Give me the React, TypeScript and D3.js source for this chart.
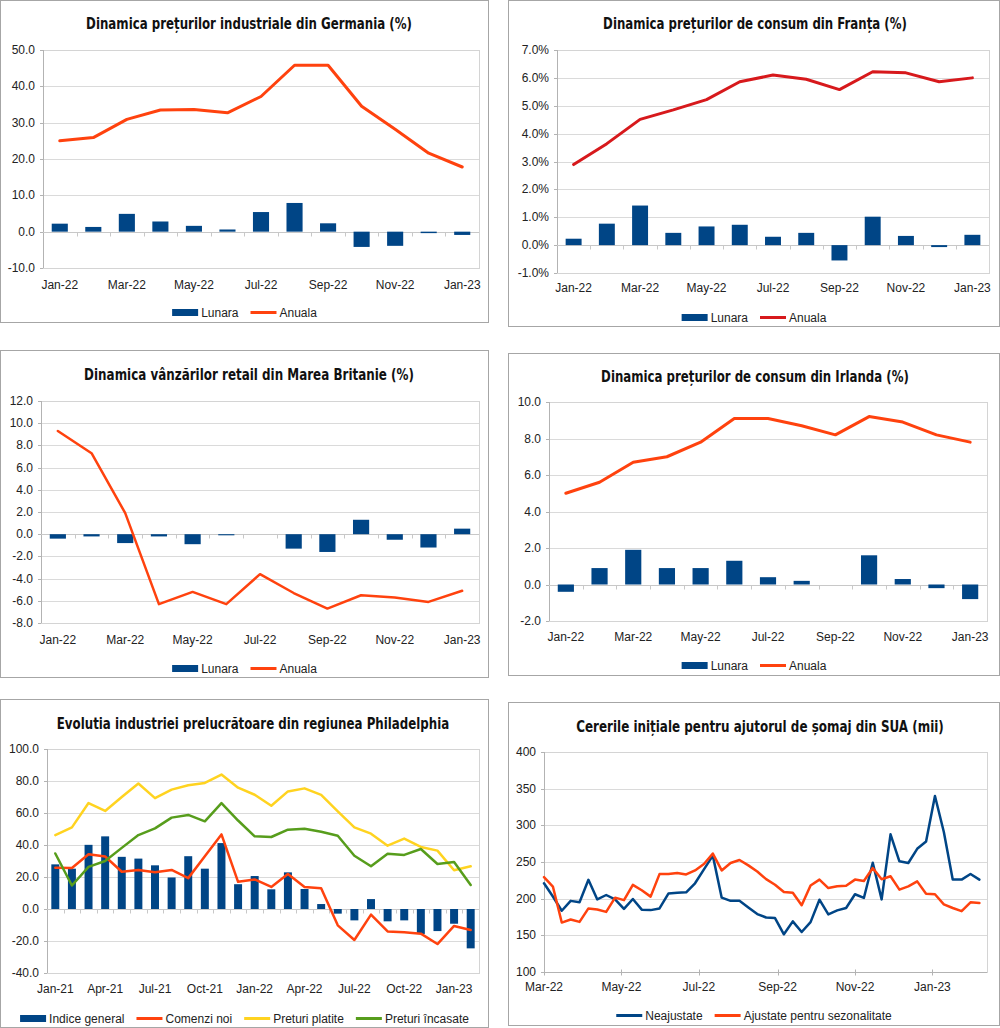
import * as d3 from "d3";
import React from "react";

const BLUE = "#004586";
const ORANGE = "#ff420e";
const RED = "#d7191c";
const YELLOW = "#ffd320";
const GREEN = "#579d1c";
const FONT = "'Liberation Sans', Arial, sans-serif";
const TITLE_FONT = "'Liberation Sans Narrow', 'Arial Narrow', 'DejaVu Sans Condensed', sans-serif";

// monthly categories
const months22 = ["Jan-22", "Feb-22", "Mar-22", "Apr-22", "May-22", "Jun-22", "Jul-22", "Aug-22", "Sep-22", "Oct-22", "Nov-22", "Dec-22", "Jan-23"];
const months21 = [
  "Jan-21", "Feb-21", "Mar-21", "Apr-21", "May-21", "Jun-21", "Jul-21", "Aug-21", "Sep-21", "Oct-21", "Nov-21", "Dec-21",
  "Jan-22", "Feb-22", "Mar-22", "Apr-22", "May-22", "Jun-22", "Jul-22", "Aug-22", "Sep-22", "Oct-22", "Nov-22", "Dec-22",
  "Jan-23", "Feb-23",
];

// Germania - preturi industriale
const deLunara = [2.2, 1.3, 4.9, 2.8, 1.6, 0.6, 5.4, 7.9, 2.3, -4.2, -3.9, -0.4, -0.9];
const deAnuala = [25.0, 25.9, 30.9, 33.5, 33.6, 32.7, 37.2, 45.8, 45.8, 34.5, 28.2, 21.6, 17.8];

// Franta - preturi de consum
const frLunara = [0.23, 0.77, 1.42, 0.44, 0.67, 0.73, 0.3, 0.44, -0.55, 1.02, 0.33, -0.07, 0.37];
const frAnuala = [2.89, 3.64, 4.51, 4.85, 5.22, 5.86, 6.1, 5.95, 5.58, 6.22, 6.18, 5.86, 6.0];

// Marea Britanie - vanzari retail
const ukLunara = [-0.4, -0.2, -0.8, -0.2, -0.9, -0.1, 0, -1.3, -1.6, 1.3, -0.5, -1.2, 0.5];
const ukAnuala = [9.3, 7.3, 1.9, -6.3, -5.2, -6.3, -3.6, -5.3, -6.7, -5.5, -5.7, -6.1, -5.1];

// Irlanda - preturi de consum
const ieLunara = [-0.4, 0.9, 1.9, 0.9, 0.9, 1.3, 0.4, 0.2, 0, 1.6, 0.3, -0.2, -0.8];
const ieAnuala = [5.0, 5.6, 6.7, 7.0, 7.8, 9.1, 9.1, 8.7, 8.2, 9.2, 8.9, 8.2, 7.8];

// Philadelphia
const phIndice = [27.9, 25.2, 40.1, 45.4, 32.6, 31.5, 27.3, 19.7, 33.0, 25.2, 41.2, 15.5, 20.6, 12.3, 22.9, 12.5, 3.1, -2.9, -7.1, 6.2, -7.7, -7.1, -15.6, -13.8, -9.2, -24.6];
const phComenzi = [25.8, 25.6, 34.2, 32.8, 23.3, 24.4, 22.9, 24.4, 19.3, 33.0, 46.6, 17.0, 18.5, 13.8, 21.9, 13.8, 12.9, -10.2, -19.4, -3.5, -14.0, -14.6, -15.4, -21.9, -10.6, -13.1];
const phPlatite = [46.2, 51.0, 66.2, 61.3, 70.0, 78.4, 69.3, 74.6, 77.3, 78.8, 84.0, 75.8, 71.4, 64.5, 73.5, 75.4, 71.3, 61.0, 51.0, 47.1, 39.6, 44.0, 38.8, 36.5, 24.2, 26.7];
const phIncasate = [34.7, 14.7, 26.3, 30.0, 38.2, 46.2, 50.4, 57.1, 58.8, 54.8, 66.2, 55.3, 45.4, 45.0, 49.6, 50.2, 48.3, 45.8, 33.3, 26.7, 34.6, 33.8, 37.5, 28.1, 29.4, 15.0];

// SUA - cereri initiale saptamanale (mii)
const usFirstWeek = new Date(2022, 2, 1);
const usAxisEnd = new Date(2023, 1, 13);
const usNeajustate = [
  221, 203, 183.5, 197, 195, 225.7, 199, 205, 199, 186, 199.5, 185, 184.4, 186.7, 207, 208, 208.7, 221, 240, 258.7,
  201.4, 197, 197, 188, 179, 174.3, 173.6, 151.4, 169, 154.5, 168, 198.6, 178.6, 184, 187.3, 206, 201, 249, 199, 287.7,
  251, 248.6, 268, 278, 340, 291, 226, 226, 233.6, 226,
];
const usAjustate = [
  229.4, 216.5, 167.4, 171.6, 168.3, 186.7, 185.3, 182, 201.4, 198, 218.8, 211.5, 202.8, 233.5, 233.5, 235, 233, 238.5, 247.2, 261.5,
  238.5, 248.6, 252.8, 245.4, 237, 226.6, 219, 209, 208, 191, 218, 226, 214.5, 217, 217.7, 226, 224, 241.8, 226.4, 230.5,
  212.3, 216.8, 223.6, 206.8, 206, 192.3, 187.3, 183, 195, 194,
];

type Series = { name: string; values: number[]; color: string; kind: "bar" | "line"; width?: number };
type Panel = {
  box: [number, number, number, number];
  plot: [number, number, number, number];
  title: string;
  titleX: number;
  titleY: number;
  titleW: number;
  categories?: string[];
  dates?: Date[];
  dateEnd?: Date;
  labelEvery?: number;
  yDomain: [number, number];
  yStep: number;
  yFormat: (v: number) => string;
  series: Series[];
  xLabelY: number;
  legendY: number;
};

const fmt1 = (v: number) => v.toFixed(1);

const usDates = usNeajustate.map((_, i) => d3.timeDay.offset(usFirstWeek, i * 7));

const panels: Panel[] = [
  {
    box: [0, 0, 489, 323],
    plot: [43, 50, 479, 268],
    title: "Dinamica prețurilor industriale din Germania (%)",
    titleX: 249,
    titleY: 29,
    titleW: 326,
    categories: months22,
    labelEvery: 2,
    yDomain: [-10, 50],
    yStep: 10,
    yFormat: fmt1,
    series: [
      { name: "Lunara", values: deLunara, color: BLUE, kind: "bar" },
      { name: "Anuala", values: deAnuala, color: ORANGE, kind: "line", width: 3 },
    ],
    xLabelY: 289,
    legendY: 312,
  },
  {
    box: [508, 0, 1000, 327],
    plot: [557, 50, 989, 273],
    title: "Dinamica prețurilor de consum din Franța (%)",
    titleX: 755,
    titleY: 29,
    titleW: 304,
    categories: months22,
    labelEvery: 2,
    yDomain: [-1, 7],
    yStep: 1,
    yFormat: (v) => `${v.toFixed(1)}%`,
    series: [
      { name: "Lunara", values: frLunara, color: BLUE, kind: "bar" },
      { name: "Anuala", values: frAnuala, color: RED, kind: "line", width: 3 },
    ],
    xLabelY: 292,
    legendY: 317,
  },
  {
    box: [0, 350, 489, 678],
    plot: [41, 401, 479, 623],
    title: "Dinamica vânzărilor retail din Marea Britanie (%)",
    titleX: 249,
    titleY: 380,
    titleW: 330,
    categories: months22,
    labelEvery: 2,
    yDomain: [-8, 12],
    yStep: 2,
    yFormat: fmt1,
    series: [
      { name: "Lunara", values: ukLunara, color: BLUE, kind: "bar" },
      { name: "Anuala", values: ukAnuala, color: ORANGE, kind: "line", width: 2.5 },
    ],
    xLabelY: 644,
    legendY: 668,
  },
  {
    box: [508, 353, 1000, 676],
    plot: [549, 402, 987, 621],
    title: "Dinamica prețurilor de consum din Irlanda (%)",
    titleX: 755,
    titleY: 382,
    titleW: 308,
    categories: months22,
    labelEvery: 2,
    yDomain: [-2, 10],
    yStep: 2,
    yFormat: fmt1,
    series: [
      { name: "Lunara", values: ieLunara, color: BLUE, kind: "bar" },
      { name: "Anuala", values: ieAnuala, color: ORANGE, kind: "line", width: 3 },
    ],
    xLabelY: 641,
    legendY: 665,
  },
  {
    box: [0, 699, 489, 1028],
    plot: [47, 749, 479, 973],
    title: "Evolutia industriei prelucrătoare din regiunea Philadelphia",
    titleX: 253,
    titleY: 729,
    titleW: 393,
    categories: months21,
    labelEvery: 3,
    yDomain: [-40, 100],
    yStep: 20,
    yFormat: fmt1,
    series: [
      { name: "Indice general", values: phIndice, color: BLUE, kind: "bar" },
      { name: "Comenzi noi", values: phComenzi, color: ORANGE, kind: "line", width: 2.5 },
      { name: "Preturi platite", values: phPlatite, color: YELLOW, kind: "line", width: 2.5 },
      { name: "Preturi încasate", values: phIncasate, color: GREEN, kind: "line", width: 2.5 },
    ],
    xLabelY: 993,
    legendY: 1018,
  },
  {
    box: [508, 702, 1000, 1026],
    plot: [544, 752, 987, 972],
    title: "Cererile inițiale pentru ajutorul de șomaj din SUA (mii)",
    titleX: 760,
    titleY: 732,
    titleW: 368,
    dates: usDates,
    dateEnd: usAxisEnd,
    yDomain: [100, 400],
    yStep: 50,
    yFormat: (v) => `${v}`,
    series: [
      { name: "Neajustate", values: usNeajustate, color: BLUE, kind: "line", width: 2.5 },
      { name: "Ajustate pentru sezonalitate", values: usAjustate, color: ORANGE, kind: "line", width: 2.5 },
    ],
    xLabelY: 991,
    legendY: 1015,
  },
];

function drawPanel(root: d3.Selection<SVGSVGElement, unknown, null, undefined>, p: Panel) {
  const g = root.append("g");
  const [bx0, by0, bx1, by1] = p.box;
  const [l, t, r, b] = p.plot;

  g.append("rect")
    .attr("x", bx0 + 0.5)
    .attr("y", by0 + 0.5)
    .attr("width", bx1 - bx0 - 1)
    .attr("height", by1 - by0 - 1)
    .attr("fill", "#fff")
    .attr("stroke", "#a6a6a6");

  // condensed bold title: measure it, then squeeze horizontally to the reference width
  const tg = g.append("g");
  const title = tg
    .append("text")
    .attr("x", 0)
    .attr("y", 0)
    .attr("text-anchor", "middle")
    .attr("font-family", TITLE_FONT)
    .attr("font-stretch", "condensed")
    .attr("font-weight", "bold")
    .attr("font-size", 16)
    .attr("fill", "#111")
    .text(p.title);
  const natural = (title.node() as SVGTextElement).getComputedTextLength() || p.titleW;
  tg.attr("transform", `translate(${p.titleX},${p.titleY}) scale(${Math.min(1, p.titleW / natural)},1)`);

  const y = d3.scaleLinear().domain(p.yDomain).range([b, t]);
  const ticks = d3.range(p.yDomain[0], p.yDomain[1] + p.yStep / 2, p.yStep);

  // gridlines
  g.append("g")
    .selectAll("line")
    .data(ticks)
    .join("line")
    .attr("x1", l)
    .attr("x2", r)
    .attr("y1", (d) => Math.round(y(d)) + 0.5)
    .attr("y2", (d) => Math.round(y(d)) + 0.5)
    .attr("stroke", "#dadada");

  g.append("rect")
    .attr("x", l + 0.5)
    .attr("y", Math.round(t) + 0.5)
    .attr("width", r - l)
    .attr("height", Math.round(b) - Math.round(t))
    .attr("fill", "none")
    .attr("stroke", "#d4d4d4");

  // y axis
  g.append("line")
    .attr("x1", l + 0.5)
    .attr("x2", l + 0.5)
    .attr("y1", t)
    .attr("y2", b)
    .attr("stroke", "#b3b3b3");
  g.append("g")
    .selectAll("line")
    .data(ticks)
    .join("line")
    .attr("x1", l - 3)
    .attr("x2", l)
    .attr("y1", (d) => Math.round(y(d)) + 0.5)
    .attr("y2", (d) => Math.round(y(d)) + 0.5)
    .attr("stroke", "#b3b3b3");
  g.append("g")
    .selectAll("text")
    .data(ticks)
    .join("text")
    .attr("x", l - 8)
    .attr("y", (d) => y(d) + 4)
    .attr("text-anchor", "end")
    .attr("font-family", FONT)
    .attr("font-size", 12)
    .attr("fill", "#222")
    .text((d) => p.yFormat(d));

  const y0 = Math.round(y(Math.max(0, p.yDomain[0]))) + 0.5;
  let xAt: (i: number) => number;
  let barW = 0;

  if (p.dates) {
    const x = d3.scaleTime().domain([p.dates[0], p.dateEnd as Date]).range([l, r]);
    xAt = (i) => x((p.dates as Date[])[i]);
    const xt = x.ticks(d3.timeMonth.every(2) as d3.TimeInterval);
    const fmt = d3.timeFormat("%b-%y");
    g.append("line").attr("x1", l).attr("x2", r).attr("y1", y0).attr("y2", y0).attr("stroke", "#b3b3b3");
    g.append("g")
      .selectAll("line")
      .data(xt)
      .join("line")
      .attr("x1", (d) => Math.round(x(d)) + 0.5)
      .attr("x2", (d) => Math.round(x(d)) + 0.5)
      .attr("y1", y0 - 3)
      .attr("y2", y0 + 3)
      .attr("stroke", "#b3b3b3");
    g.append("g")
      .selectAll("text")
      .data(xt)
      .join("text")
      .attr("x", (d) => x(d))
      .attr("y", p.xLabelY)
      .attr("text-anchor", "middle")
      .attr("font-family", FONT)
      .attr("font-size", 12)
      .attr("fill", "#222")
      .text((d) => fmt(d));
  } else {
    const cats = p.categories as string[];
    const x = d3.scaleBand().domain(cats).range([l, r]).padding(0);
    xAt = (i) => (x(cats[i]) as number) + x.bandwidth() / 2;
    barW = x.bandwidth() * 0.48;
    g.append("line").attr("x1", l).attr("x2", r).attr("y1", y0).attr("y2", y0).attr("stroke", "#c8c8c8");
    g.append("g")
      .selectAll("line")
      .data(d3.range(1, cats.length))
      .join("line")
      .attr("x1", (i) => Math.round(l + x.step() * i) + 0.5)
      .attr("x2", (i) => Math.round(l + x.step() * i) + 0.5)
      .attr("y1", y0)
      .attr("y2", y0 + 4)
      .attr("stroke", "#c8c8c8");
    g.append("g")
      .selectAll("text")
      .data(cats.filter((_, i) => i % (p.labelEvery ?? 1) === 0))
      .join("text")
      .attr("x", (d) => (x(d) as number) + x.bandwidth() / 2)
      .attr("y", p.xLabelY)
      .attr("text-anchor", "middle")
      .attr("font-family", FONT)
      .attr("font-size", 12)
      .attr("fill", "#222")
      .text((d) => d);
  }

  // bars first, then lines
  p.series
    .filter((s) => s.kind === "bar")
    .forEach((s) => {
      g.append("g")
        .selectAll("rect")
        .data(s.values)
        .join("rect")
        .attr("x", (_, i) => xAt(i) - barW / 2)
        .attr("y", (d) => Math.min(y(d), y(0)))
        .attr("width", barW)
        .attr("height", (d) => Math.abs(y(d) - y(0)))
        .attr("fill", s.color);
    });

  p.series
    .filter((s) => s.kind === "line")
    .forEach((s) => {
      const line = d3
        .line<number>()
        .x((_, i) => xAt(i))
        .y((d) => y(d));
      g.append("path")
        .datum(s.values)
        .attr("fill", "none")
        .attr("stroke", s.color)
        .attr("stroke-width", s.width ?? 2.5)
        .attr("stroke-linejoin", "round")
        .attr("stroke-linecap", "round")
        .attr("d", line);
    });

  // legend, centred in the panel
  const lg = g.append("g");
  let cursor = 0;
  p.series.forEach((s) => {
    if (s.kind === "bar") {
      lg.append("rect").attr("x", cursor).attr("y", -3).attr("width", 26).attr("height", 7).attr("fill", s.color);
    } else {
      lg.append("line")
        .attr("x1", cursor)
        .attr("x2", cursor + 26)
        .attr("y1", 0.5)
        .attr("y2", 0.5)
        .attr("stroke", s.color)
        .attr("stroke-width", 3);
    }
    const txt = lg
      .append("text")
      .attr("x", cursor + 29)
      .attr("y", 5)
      .attr("font-family", FONT)
      .attr("font-size", 12)
      .attr("fill", "#222")
      .text(s.name);
    const w = (txt.node() as SVGTextElement).getComputedTextLength();
    cursor += 29 + w + 12;
  });
  const total = cursor - 12;
  lg.attr("transform", `translate(${(bx0 + bx1) / 2 - total / 2},${p.legendY})`);
}

export default function App() {
  const svgRef = React.useRef<SVGSVGElement>(null);

  React.useEffect(() => {
    document.body.style.margin = "0";
    if (!svgRef.current) return;
    const svg = d3.select(svgRef.current);
    svg.selectAll("*").remove();
    panels.forEach((p) => drawPanel(svg, p));
  }, []);

  return <svg ref={svgRef} width={1000} height={1028} style={{ display: "block", background: "#fff" }} />;
}
